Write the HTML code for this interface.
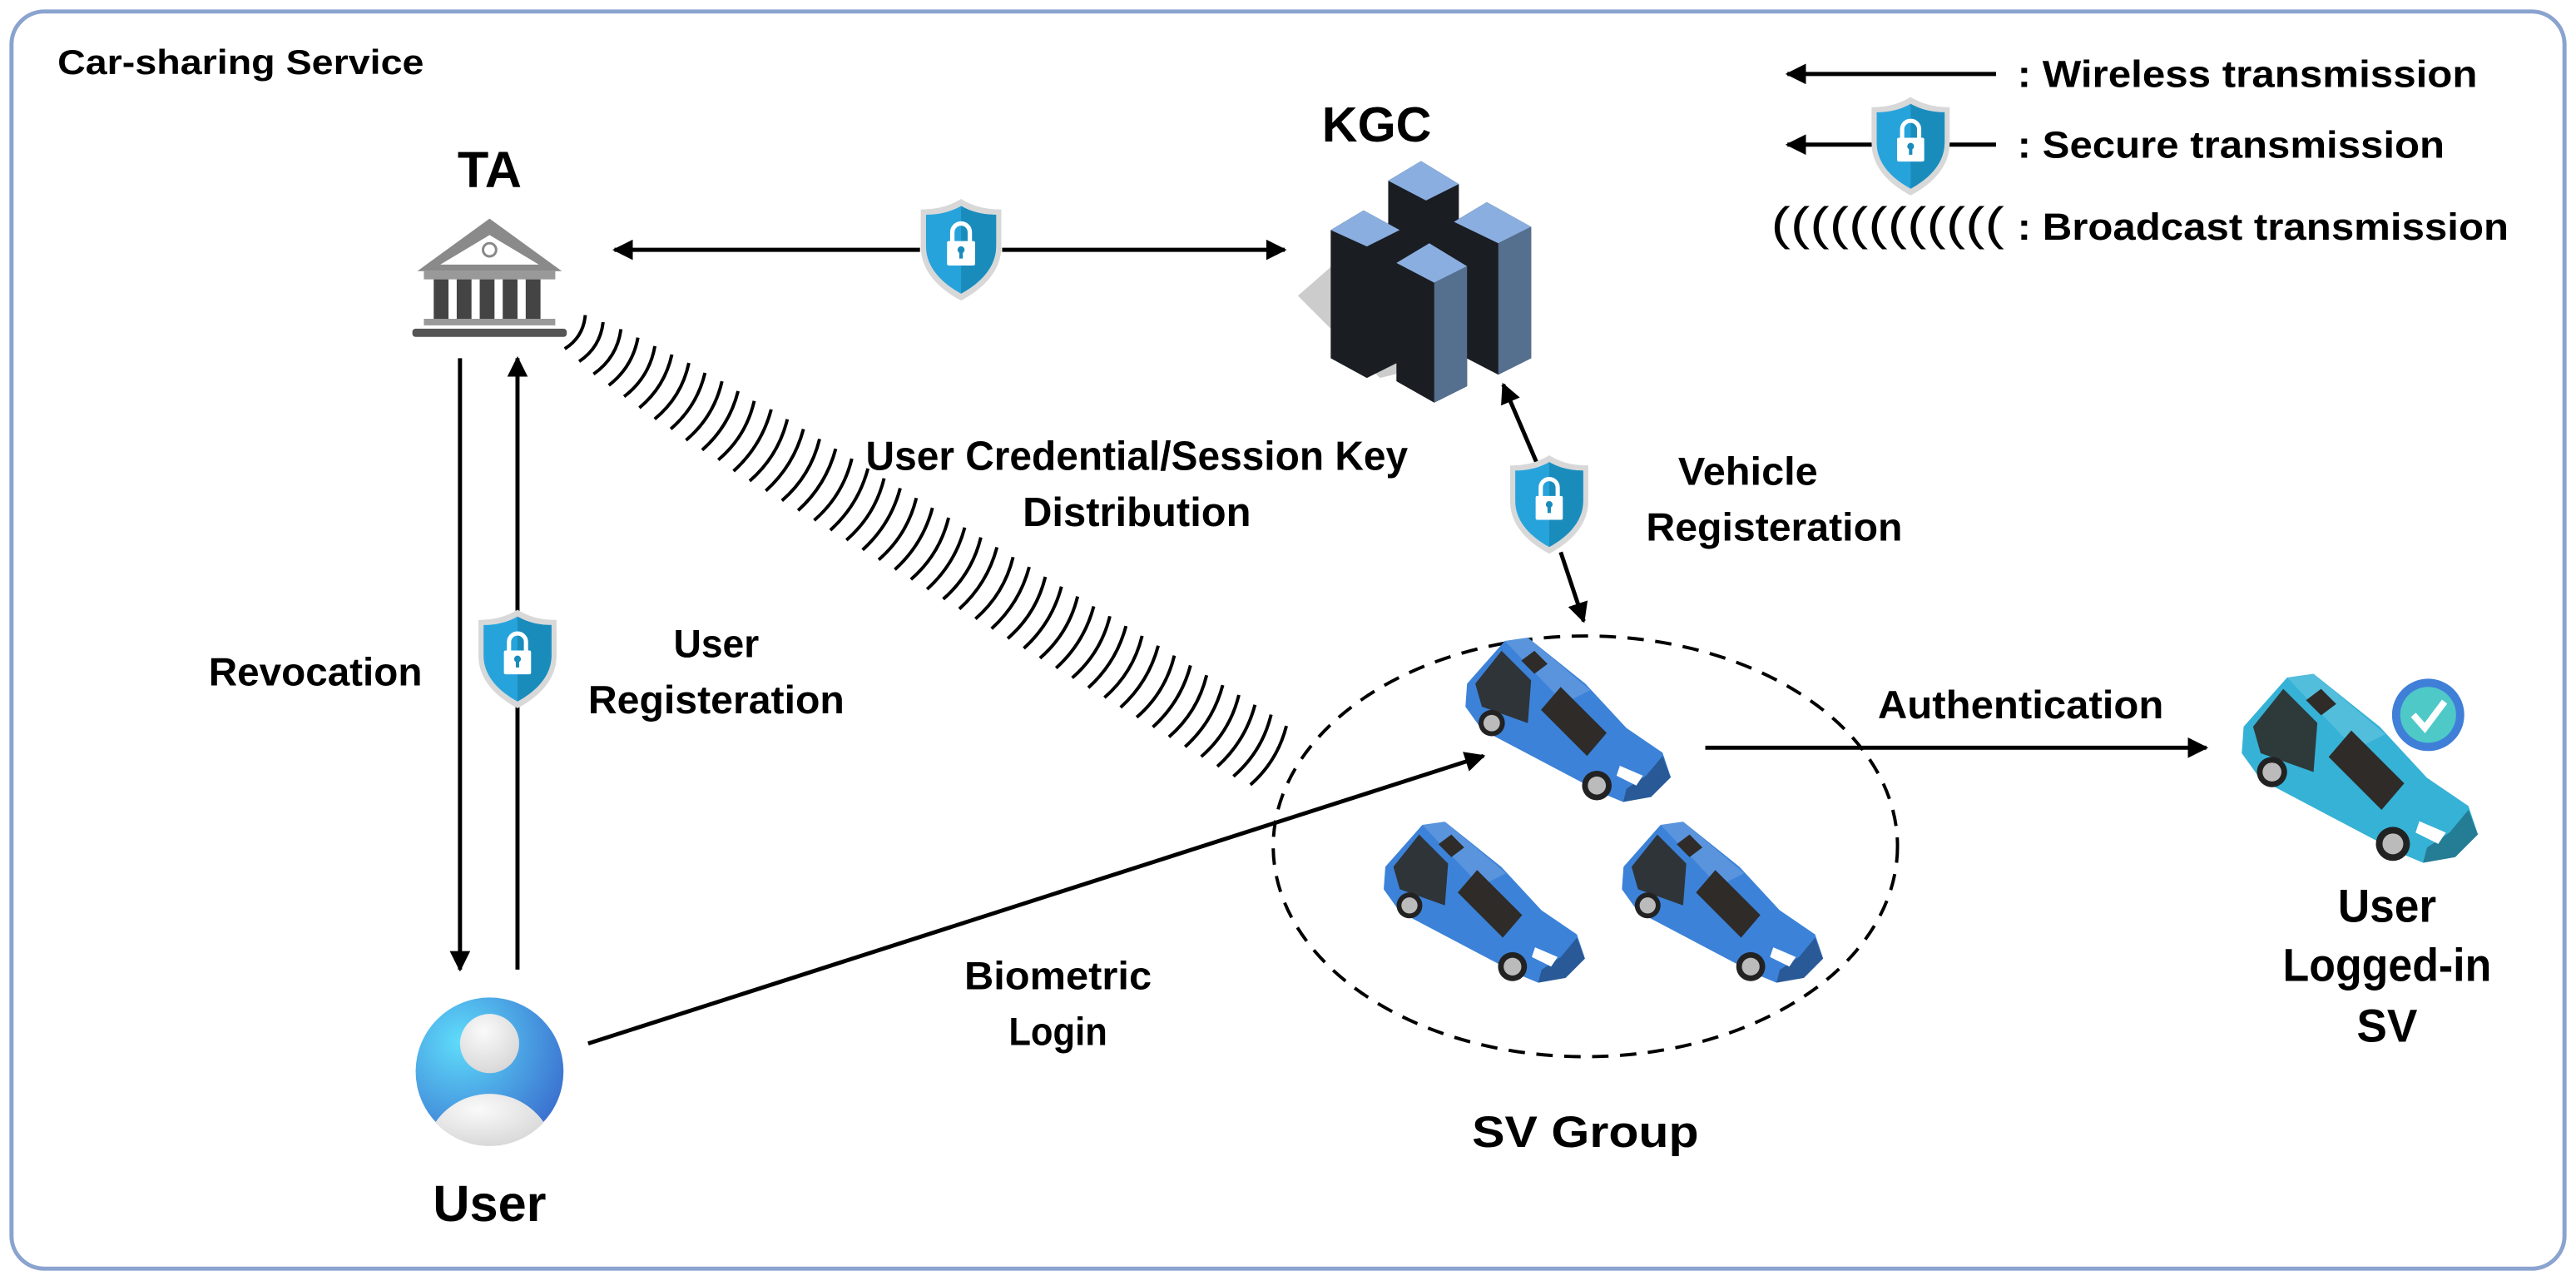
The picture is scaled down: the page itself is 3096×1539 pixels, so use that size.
<!DOCTYPE html>
<html><head><meta charset="utf-8"><style>
html,body{margin:0;padding:0;background:#fff}
svg{display:block}
text{font-family:"Liberation Sans Narrow","Liberation Sans",sans-serif;font-weight:bold;fill:#000}
</style></head><body>
<svg width="3096" height="1539" viewBox="0 0 1568 779.5" preserveAspectRatio="none" xmlns="http://www.w3.org/2000/svg">
<defs>
<marker id="ah" viewBox="0 0 10 10" refX="9" refY="5" markerWidth="5" markerHeight="5" orient="auto-start-reverse" markerUnits="strokeWidth">
<path d="M0,0 L10,5 L0,10 z" fill="#000"/></marker>
<symbol id="shield" viewBox="0 0 50 60">
<path d="M25,1 C33,6 41,7 48,7 L48,28 C48,42 38,52 25,59 C12,52 2,42 2,28 L2,7 C9,7 17,6 25,1z" fill="#d8d8d8"/>
<path d="M25,5 C32,9 39,10 45,10 L45,28 C45,40 36,49 25,55 C14,49 5,40 5,28 L5,10 C11,10 18,9 25,5z" fill="#27a3dc"/>
<path d="M25,5 C32,9 39,10 45,10 L45,28 C45,40 36,49 25,55z" fill="#1a8cbc"/>
<path d="M20,26 L20,20 A5,5 0 0 1 30,20 L30,26" fill="none" stroke="#fff" stroke-width="2.5"/>
<rect x="17" y="25" width="16" height="14" rx="1" fill="#fff"/>
<circle cx="25" cy="30" r="2" fill="#1a8cbc"/><rect x="24" y="30" width="2" height="5" fill="#1a8cbc"/>
</symbol>
<symbol id="car" viewBox="0 0 130 100">
<path d="M3,28 L26,2 L40,0 L75,28 L100,55 L122,70 L127,85 L115,97 L98,100 L86,95 L12,56 L2,42 z" fill="currentColor"/>
<path d="M26,2 L40,0 L78,32 L62,40 z" fill="#fff" opacity="0.15"/>
<path d="M8,28 L24,8 L42,26 L40,52 L12,42 z" fill="#2e2b28" opacity="0.9"/>
<path d="M60,30 L88,58 L76,72 L48,44 z" fill="#2e2b28"/>
<path d="M36,14 L44,8 L52,16 L44,22z" fill="#2e2b28"/>
<path d="M98,100 L115,97 L127,85 L122,72 L112,84 L100,92z" fill="#000" opacity="0.3"/>
<circle cx="18" cy="52" r="8" fill="#222"/><circle cx="18" cy="52" r="5" fill="#bbb"/>
<circle cx="82" cy="90" r="9" fill="#222"/><circle cx="82" cy="90" r="5.5" fill="#bbb"/>
<path d="M96,78 L110,84 L106,90 L94,84z" fill="#fff"/>
</symbol>
<radialGradient id="ug" cx="0.3" cy="0.3" r="0.8"><stop offset="0" stop-color="#5edcfa"/><stop offset="1" stop-color="#3a6fcf"/></radialGradient>
<radialGradient id="wg" cx="0.4" cy="0.3" r="0.8"><stop offset="0" stop-color="#fafafa"/><stop offset="1" stop-color="#d4d4d4"/></radialGradient>
</defs>

<rect x="7" y="7" width="1554" height="765" rx="20" fill="#fff" stroke="#8aa3cf" stroke-width="2.5"/>
<text x="35" y="45" font-size="21" textLength="223" lengthAdjust="spacingAndGlyphs">Car-sharing Service</text>

<line x1="1215" y1="45" x2="1088" y2="45" stroke="#000" stroke-width="2.5" marker-end="url(#ah)"/>
<text x="1228" y="53" font-size="23" textLength="280" lengthAdjust="spacingAndGlyphs">: Wireless transmission</text>
<line x1="1215" y1="88" x2="1088" y2="88" stroke="#000" stroke-width="2.5" marker-end="url(#ah)"/>
<use href="#shield" x="1137" y="58" width="52" height="62"/>
<text x="1228" y="96" font-size="23" textLength="260" lengthAdjust="spacingAndGlyphs">: Secure transmission</text>
<text x="1078" y="146" font-size="28" textLength="142" lengthAdjust="spacingAndGlyphs" style="font-weight:normal">((((((((((((</text>
<text x="1228" y="146" font-size="23" textLength="299" lengthAdjust="spacingAndGlyphs">: Broadcast transmission</text>

<text x="298" y="114" font-size="31" text-anchor="middle">TA</text>
<g>
<polygon points="298,133 254,165 342,165" fill="#8a8a8a"/>
<polygon points="298,143 268,161 328,161" fill="#fff"/>
<circle cx="298" cy="152" r="4" fill="none" stroke="#888" stroke-width="1.5"/>
<rect x="258" y="165" width="80" height="5" fill="#999"/>
<rect x="264" y="170" width="9" height="25" fill="#444"/>
<rect x="278" y="170" width="9" height="25" fill="#444"/>
<rect x="292" y="170" width="9" height="25" fill="#444"/>
<rect x="306" y="170" width="9" height="25" fill="#444"/>
<rect x="320" y="170" width="9" height="25" fill="#444"/>
<rect x="258" y="194" width="80" height="4" fill="#999"/>
<rect x="251" y="200" width="94" height="5" rx="2" fill="#555"/>
</g>

<text x="838" y="86" font-size="30" text-anchor="middle">KGC</text>
<polygon points="790,180 830,145 880,220 840,230" fill="#ccc"/>
<g>
<polygon points="845,110 865,98 888,112 888,190 868,200 845,188" fill="#1a1d22"/>
<polygon points="845,110 865,98 888,112 868,122" fill="#8aaee0"/>
<polygon points="810,140 830,128 852,140 852,220 832,230 810,218" fill="#1a1d22"/>
<polygon points="810,140 830,128 852,140 832,150" fill="#8aaee0"/>
<polygon points="885,135 905,123 932,138 932,218 912,228 885,214" fill="#1a1d22"/>
<polygon points="885,135 905,123 932,138 912,148" fill="#8aaee0"/>
<polygon points="850,160 870,148 893,162 893,235 873,245 850,232" fill="#1a1d22"/>
<polygon points="850,160 870,148 893,162 873,172" fill="#8aaee0"/>
<polygon points="873,172 893,162 893,235 873,245" fill="#556f8f"/>
<polygon points="912,148 932,138 932,218 912,228" fill="#556f8f"/>
</g>

<line x1="374" y1="152" x2="560" y2="152" stroke="#000" stroke-width="2.5" marker-start="url(#ah)"/>
<line x1="610" y1="152" x2="782" y2="152" stroke="#000" stroke-width="2.5" marker-end="url(#ah)"/>
<use href="#shield" x="558" y="120" width="54" height="64"/>

<g transform="translate(350,202) rotate(31.4)" fill="none" stroke="#000" stroke-width="2">
<path d="M0,-12 Q6,0 0,12"/><path d="M11.5,-14 Q18,0 11.5,14"/><path d="M23,-16 Q30,0 23,16"/><path d="M34.5,-17 Q41,0 34.5,17"/>
<path d="M46,-18 Q53,0 46,18"/><path d="M57.5,-19 Q64,0 57.5,19"/><path d="M69,-20 Q76,0 69,20"/><path d="M80.5,-20 Q87,0 80.5,20"/>
<path d="M92,-21 Q99,0 92,21"/><path d="M103.5,-21 Q110,0 103.5,21"/><path d="M115,-21 Q122,0 115,21"/><path d="M126.5,-22 Q133,0 126.5,22"/>
<path d="M138,-22 Q145,0 138,22"/><path d="M149.5,-22 Q156,0 149.5,22"/><path d="M161,-22 Q168,0 161,22"/><path d="M172.5,-22 Q179,0 172.5,22"/>
<path d="M184,-22 Q191,0 184,22"/><path d="M195.5,-22 Q202,0 195.5,22"/><path d="M207,-22 Q214,0 207,22"/><path d="M218.5,-22 Q225,0 218.5,22"/>
<path d="M230,-22 Q237,0 230,22"/><path d="M241.5,-22 Q248,0 241.5,22"/><path d="M253,-22 Q260,0 253,22"/><path d="M264.5,-22 Q271,0 264.5,22"/>
<path d="M276,-22 Q283,0 276,22"/><path d="M287.5,-22 Q294,0 287.5,22"/><path d="M299,-22 Q306,0 299,22"/><path d="M310.5,-22 Q317,0 310.5,22"/>
<path d="M322,-22 Q329,0 322,22"/><path d="M333.5,-22 Q340,0 333.5,22"/><path d="M345,-22 Q352,0 345,22"/><path d="M356.5,-22 Q363,0 356.5,22"/>
<path d="M368,-22 Q375,0 368,22"/><path d="M379.5,-22 Q386,0 379.5,22"/><path d="M391,-22 Q398,0 391,22"/><path d="M402.5,-22 Q409,0 402.5,22"/>
<path d="M414,-22 Q421,0 414,22"/><path d="M425.5,-22 Q432,0 425.5,22"/><path d="M437,-22 Q444,0 437,22"/><path d="M448.5,-22 Q455,0 448.5,22"/>
<path d="M460,-22 Q467,0 460,22"/><path d="M471.5,-22 Q478,0 471.5,22"/><path d="M483,-22 Q490,0 483,22"/><path d="M494.5,-21 Q501,0 494.5,21"/>
</g>
<text x="692" y="286" font-size="25" text-anchor="middle" textLength="330" lengthAdjust="spacingAndGlyphs">User Credential/Session Key</text>
<text x="692" y="320" font-size="25" text-anchor="middle" textLength="139" lengthAdjust="spacingAndGlyphs">Distribution</text>

<line x1="280" y1="218" x2="280" y2="590" stroke="#000" stroke-width="2.5" marker-end="url(#ah)"/>
<line x1="315" y1="590" x2="315" y2="425" stroke="#000" stroke-width="2.5"/>
<line x1="315" y1="375" x2="315" y2="218" stroke="#000" stroke-width="2.5" marker-end="url(#ah)"/>
<use href="#shield" x="288" y="370" width="54" height="62"/>
<text x="192" y="417" font-size="24" text-anchor="middle" textLength="130" lengthAdjust="spacingAndGlyphs">Revocation</text>
<text x="436" y="400" font-size="24" text-anchor="middle" textLength="52" lengthAdjust="spacingAndGlyphs">User</text>
<text x="436" y="434" font-size="24" text-anchor="middle" textLength="156" lengthAdjust="spacingAndGlyphs">Registeration</text>

<line x1="936" y1="283" x2="915" y2="234" stroke="#000" stroke-width="2.5" marker-end="url(#ah)"/>
<line x1="950" y1="336" x2="964" y2="378" stroke="#000" stroke-width="2.5" marker-end="url(#ah)"/>
<use href="#shield" x="917" y="276" width="52" height="62"/>
<text x="1064" y="295" font-size="24" text-anchor="middle" textLength="85" lengthAdjust="spacingAndGlyphs">Vehicle</text>
<text x="1080" y="329" font-size="24" text-anchor="middle" textLength="156" lengthAdjust="spacingAndGlyphs">Registeration</text>

<ellipse cx="965" cy="515" rx="190" ry="128" fill="none" stroke="#000" stroke-width="2" stroke-dasharray="10,7"/>
<use href="#car" x="890" y="388" width="130" height="100" style="color:#3c82d8"/>
<use href="#car" x="840" y="500" width="128" height="98" style="color:#3c82d8"/>
<use href="#car" x="985" y="500" width="128" height="98" style="color:#3c82d8"/>
<text x="965" y="698" font-size="27" text-anchor="middle" textLength="138" lengthAdjust="spacingAndGlyphs">SV Group</text>

<line x1="1038" y1="455" x2="1343" y2="455" stroke="#000" stroke-width="2.5" marker-end="url(#ah)"/>
<text x="1230" y="437" font-size="24" text-anchor="middle" textLength="174" lengthAdjust="spacingAndGlyphs">Authentication</text>

<use href="#car" x="1362" y="410" width="150" height="115" style="color:#35b2d6"/>
<circle cx="1478" cy="435" r="22" fill="#3f7fd8"/>
<circle cx="1478" cy="435" r="17" fill="#4ec9c8"/>
<path d="M1469,435 L1476,443 L1488,427" fill="none" stroke="#fff" stroke-width="4"/>
<text x="1453" y="561" font-size="28" text-anchor="middle" textLength="60" lengthAdjust="spacingAndGlyphs">User</text>
<text x="1453" y="597" font-size="28" text-anchor="middle" textLength="127" lengthAdjust="spacingAndGlyphs">Logged-in</text>
<text x="1453" y="634" font-size="28" text-anchor="middle" textLength="37" lengthAdjust="spacingAndGlyphs">SV</text>

<circle cx="298" cy="652" r="45" fill="url(#ug)"/>
<circle cx="298" cy="635" r="18" fill="url(#wg)"/>
<path d="M265,683 A40,40 0 0 1 331,683 A45,45 0 0 1 265,683 z" fill="url(#wg)"/>
<text x="298" y="743" font-size="31" text-anchor="middle" textLength="69" lengthAdjust="spacingAndGlyphs">User</text>

<line x1="358" y1="635" x2="903" y2="460" stroke="#000" stroke-width="2.5" marker-end="url(#ah)"/>
<text x="644" y="602" font-size="24" text-anchor="middle" textLength="114" lengthAdjust="spacingAndGlyphs">Biometric</text>
<text x="644" y="636" font-size="24" text-anchor="middle" textLength="60" lengthAdjust="spacingAndGlyphs">Login</text>
</svg>
</body></html>
